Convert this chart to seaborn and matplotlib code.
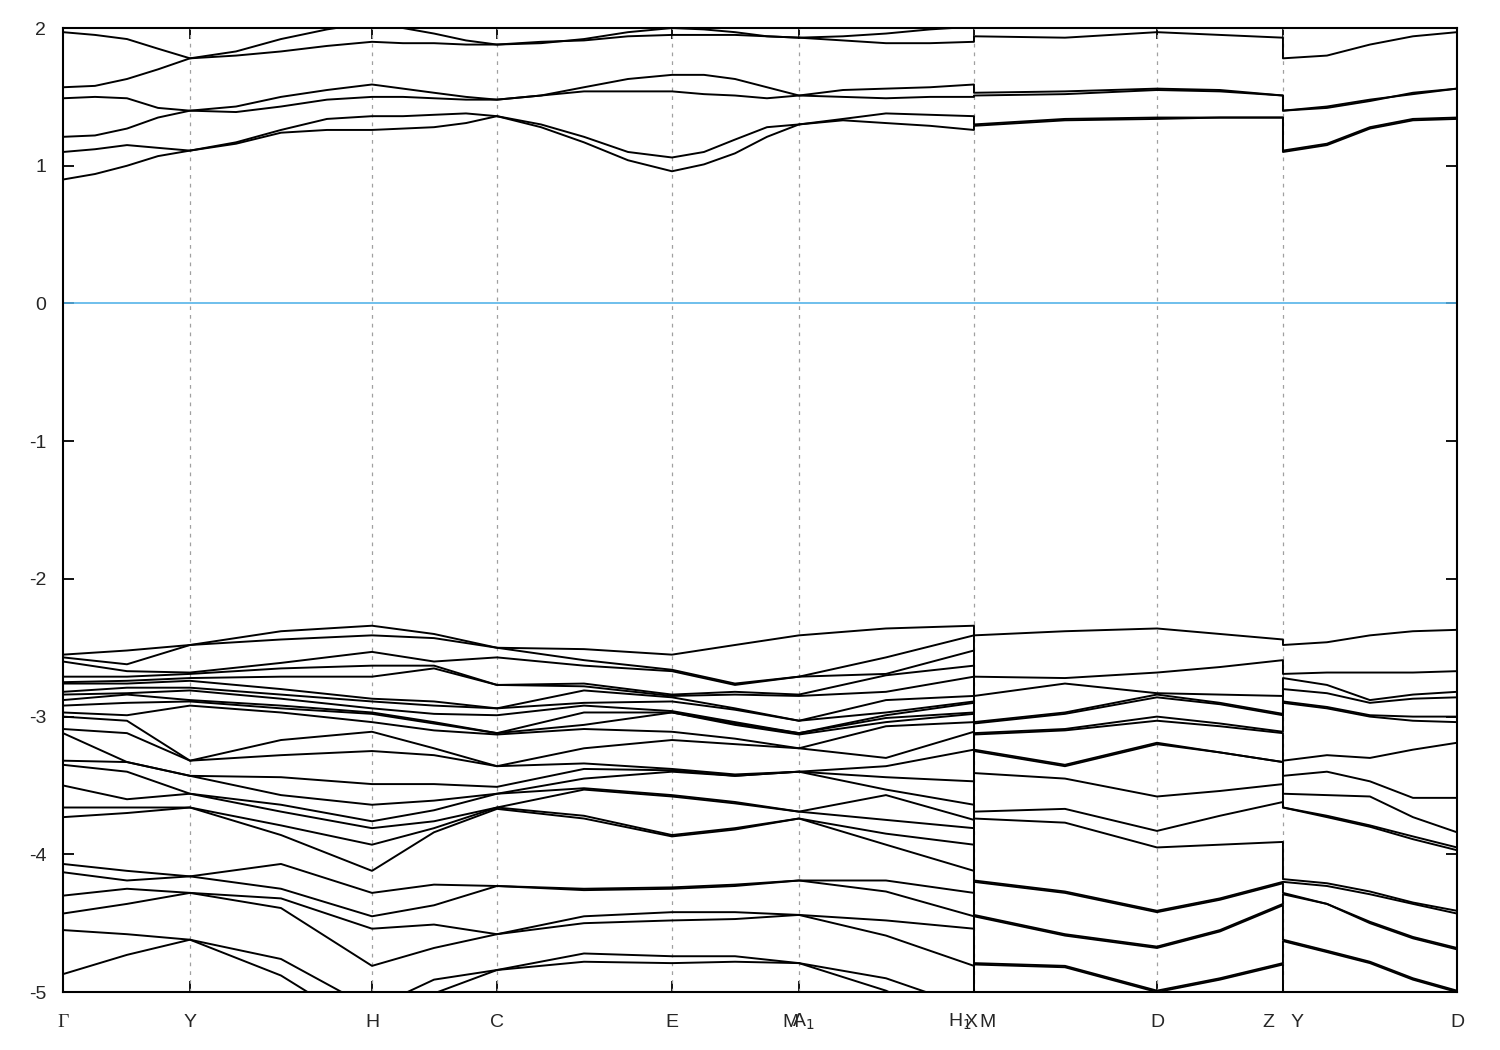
import matplotlib
matplotlib.use("Agg")
import matplotlib.pyplot as plt
import pandas as pd
import seaborn as sns

# k-path distance of every sampled column (high-symmetry points + midpoints)
k_path1 = [0.00, 0.64, 1.27, 2.18, 3.09, 3.71, 4.34, 5.21, 6.09, 6.72, 7.36, 8.23, 9.11]   # G-Y-H-C-E-M|A1-X
k_path2 = [9.11, 10.02, 10.94, 11.57, 12.20]                                              # M-D-Z
k_path3 = [12.20, 12.64, 13.07, 13.50, 13.94]                                             # Y-D
# conduction bands were read at quarter points on the first piece
k_path1_fine = [0.00, 0.32, 0.64, 0.95, 1.27, 1.73, 2.18, 2.64, 3.09, 3.40, 3.71, 4.03, 4.34,
                4.78, 5.21, 5.65, 6.09, 6.41, 6.72, 7.04, 7.36, 7.80, 8.23, 8.67, 9.11]

tick_k = [0.00, 1.27, 3.09, 4.34, 6.09, 7.36, 9.11, 10.94, 12.20, 13.94]
label_text = ["Γ", "Y", "H", "C", "E", "M", "A$_1$", "H$_1$", "X", "M", "D", "Z", "Y", "D"]
label_k = [0.00, 1.27, 3.09, 4.34, 6.09, 7.28, 7.40, 8.97, 9.08, 9.25, 10.94, 12.05, 12.34, 13.94]

# conduction bands, one list per band and path piece (eV)
cb1_p1 = [1.97, 1.95, 1.92, 1.85, 1.78, 1.83, 1.92, 1.99, 2.04, 2.00, 1.96, 1.91, 1.88,
          1.89, 1.92, 1.97, 2.00, 1.99, 1.97, 1.94, 1.93, 1.94, 1.96, 1.99, 2.01]
cb2_p1 = [1.57, 1.58, 1.63, 1.70, 1.78, 1.80, 1.83, 1.87, 1.90, 1.89, 1.89, 1.88, 1.88,
          1.90, 1.91, 1.94, 1.95, 1.95, 1.95, 1.94, 1.93, 1.91, 1.89, 1.89, 1.90]
cb3_p1 = [1.49, 1.50, 1.49, 1.42, 1.40, 1.43, 1.50, 1.55, 1.59, 1.56, 1.53, 1.50, 1.48,
          1.51, 1.57, 1.63, 1.66, 1.66, 1.63, 1.57, 1.51, 1.55, 1.56, 1.57, 1.59]
cb4_p1 = [1.21, 1.22, 1.27, 1.35, 1.40, 1.39, 1.43, 1.48, 1.50, 1.50, 1.49, 1.48, 1.48,
          1.51, 1.54, 1.54, 1.54, 1.52, 1.51, 1.49, 1.51, 1.50, 1.49, 1.50, 1.50]
cb5_p1 = [1.10, 1.12, 1.15, 1.13, 1.11, 1.17, 1.26, 1.34, 1.36, 1.36, 1.37, 1.38, 1.36,
          1.30, 1.21, 1.10, 1.06, 1.10, 1.19, 1.28, 1.30, 1.34, 1.38, 1.37, 1.36]
cb6_p1 = [0.90, 0.94, 1.00, 1.07, 1.11, 1.16, 1.24, 1.26, 1.26, 1.27, 1.28, 1.31, 1.36,
          1.28, 1.17, 1.04, 0.96, 1.01, 1.09, 1.21, 1.30, 1.33, 1.31, 1.29, 1.26]

cb1_p2 = [2.02, 2.03, 2.05, 2.04, 2.03]
cb2_p2 = [1.94, 1.93, 1.97, 1.95, 1.93]
cb3_p2 = [1.53, 1.54, 1.56, 1.55, 1.51]
cb4_p2 = [1.51, 1.52, 1.55, 1.54, 1.51]
cb5_p2 = [1.30, 1.34, 1.35, 1.35, 1.35]
cb6_p2 = [1.29, 1.33, 1.34, 1.35, 1.35]

cb1_p3 = [2.05, 2.06, 2.08, 2.08, 2.08]
cb2_p3 = [1.78, 1.80, 1.88, 1.94, 1.97]
cb3_p3 = [1.40, 1.43, 1.48, 1.52, 1.56]
cb4_p3 = [1.40, 1.42, 1.47, 1.53, 1.56]
cb5_p3 = [1.11, 1.16, 1.28, 1.34, 1.35]
cb6_p3 = [1.10, 1.15, 1.27, 1.33, 1.34]

# valence manifold, read column by column (top to bottom, eV)
vb_G   = [-2.55, -2.57, -2.60, -2.71, -2.75, -2.76, -2.82, -2.84, -2.88, -2.92, -2.97, -3.00, -3.09,
          -3.12, -3.32, -3.35, -3.50, -3.66, -3.73, -4.07, -4.13, -4.30, -4.43, -4.55, -4.87]
vb_GY  = [-2.52, -2.62, -2.67, -2.71, -2.74, -2.76, -2.79, -2.83, -2.84, -2.90, -2.99, -3.03, -3.12,
          -3.33, -3.33, -3.40, -3.60, -3.66, -3.70, -4.12, -4.19, -4.25, -4.36, -4.58, -4.73]
vb_Y   = [-2.48, -2.48, -2.68, -2.69, -2.72, -2.74, -2.79, -2.81, -2.88, -2.89, -2.92, -3.32, -3.32,
          -3.43, -3.43, -3.56, -3.56, -3.66, -3.66, -4.16, -4.16, -4.28, -4.28, -4.62, -4.62]
vb_YH  = [-2.38, -2.44, -2.61, -2.65, -2.71, -2.80, -2.84, -2.87, -2.92, -2.94, -2.97, -3.17, -3.28,
          -3.44, -3.57, -3.64, -3.69, -3.79, -3.86, -4.07, -4.25, -4.32, -4.39, -4.76, -4.88]
vb_H   = [-2.34, -2.41, -2.53, -2.63, -2.71, -2.87, -2.89, -2.94, -2.97, -2.98, -3.04, -3.11, -3.25,
          -3.49, -3.64, -3.76, -3.81, -3.93, -4.12, -4.28, -4.45, -4.54, -4.81, -5.12, -5.29]
vb_HC  = [-2.40, -2.43, -2.60, -2.63, -2.65, -2.89, -2.92, -2.98, -3.04, -3.05, -3.10, -3.23, -3.28,
          -3.49, -3.61, -3.68, -3.76, -3.81, -3.84, -4.22, -4.37, -4.51, -4.68, -4.91, -5.01]
vb_C   = [-2.50, -2.50, -2.57, -2.77, -2.77, -2.94, -2.94, -2.99, -3.12, -3.12, -3.13, -3.36, -3.36,
          -3.51, -3.56, -3.56, -3.66, -3.66, -3.67, -4.23, -4.23, -4.58, -4.58, -4.84, -4.84]
vb_CE  = [-2.51, -2.59, -2.63, -2.76, -2.78, -2.81, -2.90, -2.92, -2.97, -3.06, -3.09, -3.23, -3.34,
          -3.38, -3.45, -3.52, -3.53, -3.72, -3.74, -4.25, -4.26, -4.45, -4.50, -4.72, -4.78]
vb_E   = [-2.55, -2.66, -2.67, -2.84, -2.85, -2.86, -2.89, -2.96, -2.97, -2.97, -3.11, -3.17, -3.38,
          -3.39, -3.40, -3.57, -3.58, -3.86, -3.87, -4.24, -4.25, -4.42, -4.48, -4.74, -4.79]
vb_EM  = [-2.48, -2.76, -2.77, -2.82, -2.84, -2.94, -2.95, -3.04, -3.05, -3.06, -3.16, -3.20, -3.42,
          -3.43, -3.43, -3.62, -3.63, -3.81, -3.82, -4.22, -4.23, -4.42, -4.47, -4.74, -4.78]
vb_M   = [-2.41, -2.71, -2.71, -2.84, -2.85, -3.03, -3.03, -3.12, -3.12, -3.13, -3.23, -3.23, -3.40,
          -3.40, -3.40, -3.69, -3.69, -3.74, -3.74, -4.19, -4.19, -4.44, -4.44, -4.79, -4.79]
vb_MX  = [-2.36, -2.57, -2.69, -2.70, -2.82, -2.88, -2.97, -2.99, -3.01, -3.04, -3.07, -3.30, -3.36,
          -3.44, -3.53, -3.57, -3.75, -3.85, -3.93, -4.19, -4.27, -4.48, -4.59, -4.90, -4.99]
vb_X   = [-2.34, -2.41, -2.52, -2.63, -2.71, -2.85, -2.89, -2.90, -2.97, -2.98, -3.04, -3.11, -3.24,
          -3.47, -3.64, -3.75, -3.81, -3.93, -4.12, -4.28, -4.45, -4.54, -4.81, -5.12, -5.29]

vb_M2  = [-2.41, -2.71, -2.85, -3.04, -3.05, -3.12, -3.13, -3.24, -3.25, -3.41, -3.69, -3.74,
          -4.19, -4.20, -4.44, -4.45, -4.79, -4.80]
vb_MD  = [-2.38, -2.72, -2.76, -2.97, -2.98, -3.09, -3.10, -3.35, -3.36, -3.45, -3.67, -3.77,
          -4.27, -4.28, -4.58, -4.59, -4.81, -4.82]
vb_D   = [-2.36, -2.68, -2.83, -2.84, -2.86, -3.00, -3.03, -3.19, -3.20, -3.58, -3.83, -3.95,
          -4.41, -4.42, -4.67, -4.68, -4.99, -5.00]
vb_DZ  = [-2.40, -2.64, -2.84, -2.90, -2.91, -3.05, -3.07, -3.26, -3.26, -3.54, -3.72, -3.93,
          -4.32, -4.33, -4.55, -4.56, -4.90, -4.91]
vb_Z   = [-2.44, -2.59, -2.85, -2.98, -2.99, -3.11, -3.12, -3.33, -3.33, -3.49, -3.62, -3.91,
          -4.20, -4.21, -4.36, -4.37, -4.79, -4.80]

vb_Y3  = [-2.48, -2.69, -2.72, -2.80, -2.89, -2.90, -3.32, -3.43, -3.56, -3.66, -3.66,
          -4.18, -4.20, -4.28, -4.29, -4.62, -4.63]
vb_YD1 = [-2.46, -2.68, -2.77, -2.83, -2.93, -2.94, -3.28, -3.40, -3.57, -3.72, -3.73,
          -4.21, -4.23, -4.36, -4.36, -4.70, -4.71]
vb_YD2 = [-2.41, -2.68, -2.88, -2.90, -2.99, -3.00, -3.30, -3.47, -3.58, -3.79, -3.80,
          -4.27, -4.29, -4.49, -4.50, -4.78, -4.79]
vb_YD3 = [-2.38, -2.68, -2.84, -2.87, -3.00, -3.03, -3.24, -3.59, -3.73, -3.87, -3.89,
          -4.35, -4.36, -4.60, -4.61, -4.90, -4.91]
vb_D3  = [-2.37, -2.67, -2.82, -2.86, -3.00, -3.04, -3.19, -3.59, -3.84, -3.95, -3.97,
          -4.41, -4.43, -4.68, -4.69, -4.99, -5.00]

E_BELOW = -5.4   # bands that sit under the plotted window on a piece


def build_table():
    rows = []
    cond = [
        (cb1_p1, cb1_p2, cb1_p3), (cb2_p1, cb2_p2, cb2_p3), (cb3_p1, cb3_p2, cb3_p3),
        (cb4_p1, cb4_p2, cb4_p3), (cb5_p1, cb5_p2, cb5_p3), (cb6_p1, cb6_p2, cb6_p3),
    ]
    for i, pieces in enumerate(cond):
        for k_seg, vals in zip((k_path1_fine, k_path2, k_path3), pieces):
            rows += [(f"c{i}", k, e) for k, e in zip(k_seg, vals)]

    segments = [
        (k_path1, [vb_G, vb_GY, vb_Y, vb_YH, vb_H, vb_HC, vb_C, vb_CE, vb_E, vb_EM, vb_M, vb_MX, vb_X]),
        (k_path2, [vb_M2, vb_MD, vb_D, vb_DZ, vb_Z]),
        (k_path3, [vb_Y3, vb_YD1, vb_YD2, vb_YD3, vb_D3]),
    ]
    n_val = len(vb_G)
    for b in range(n_val):
        for k_seg, cols in segments:
            for k, col in zip(k_seg, cols):
                e = col[b] if b < len(col) else E_BELOW
                rows.append((f"v{b}", k, e))
    return pd.DataFrame(rows, columns=["band", "k", "energy"])


def main():
    sns.set_style("ticks")
    plt.rcParams["font.family"] = ["Liberation Sans", "DejaVu Sans"]
    plt.rcParams["axes.unicode_minus"] = False
    plt.rcParams["axes.linewidth"] = 1.5

    df = build_table()

    fig = plt.figure(figsize=(15, 10.5), dpi=100)
    ax = fig.add_axes([0.042, 0.0552, 0.9293, 0.9181])

    for k in tick_k[1:-1]:
        ax.axvline(k, color="#a0a0a0", lw=0.9, ls=(0, (3, 4)), zorder=1)
    ax.axhline(0, color="#56b4e9", lw=1.2, zorder=1)

    sns.lineplot(data=df, x="k", y="energy", units="band", estimator=None, sort=False,
                 color="black", linewidth=1.4, legend=False, ax=ax, zorder=3)

    ax.set_xlim(tick_k[0], tick_k[-1])
    ax.set_ylim(-5, 2)
    ax.set_yticks(range(-5, 3))
    ax.set_xticks(tick_k)
    ax.set_xticklabels([])
    ax.set_xlabel("")
    ax.set_ylabel("")
    ax.tick_params(direction="in", length=8, width=1.3, top=True, right=True,
                   labelsize=14, color="black")
    ax.tick_params(axis="y", pad=12)

    for txt, k in zip(label_text, label_k):
        fam = ["Liberation Serif"] if txt == "Γ" else ["Liberation Sans", "DejaVu Sans"]
        ax.annotate(txt, xy=(k, 0), xycoords=("data", "axes fraction"),
                    xytext=(0, -25), textcoords="offset points",
                    ha="center", va="baseline", fontsize=14, family=fam)

    for side in ax.spines.values():
        side.set_color("black")

    fig.savefig("out.png", dpi=100)
    plt.close(fig)


if __name__ == "__main__":
    main()
